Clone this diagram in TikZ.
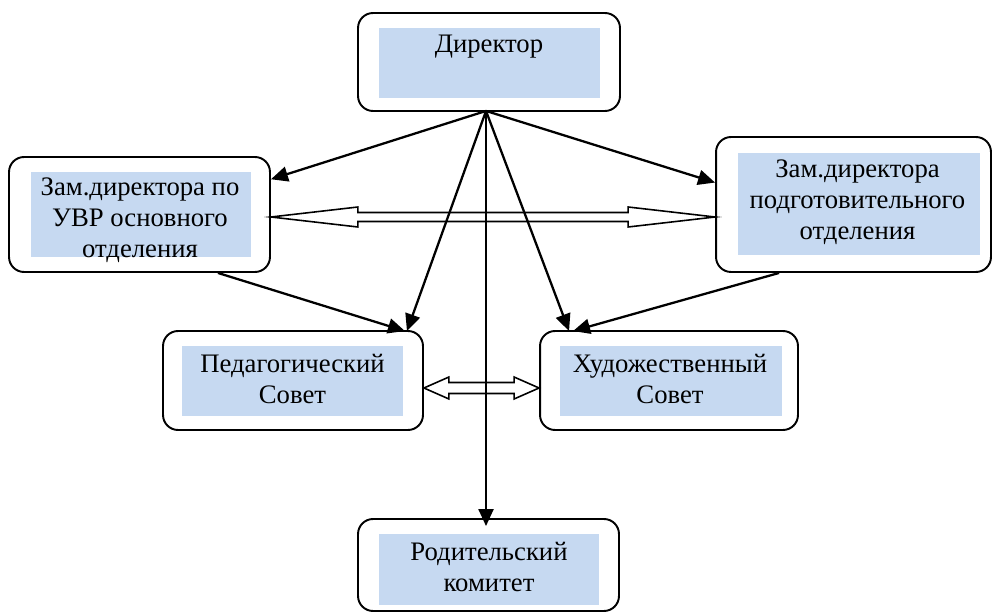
\documentclass[tikz,border=0pt]{standalone}
\usepackage{fontspec}
\setmainfont{Liberation Serif}
\usetikzlibrary{calc}
\usetikzlibrary{arrows.meta}
\definecolor{paleblue}{RGB}{198,217,241}
\tikzset{box/.style={draw, line width=1.1pt, rounded corners=0.3cm, fill=white, inner sep=0pt}}
\tikzset{tint/.style={fill=paleblue, inner sep=0pt}}
\tikzset{lbl/.style={align=center, inner sep=0pt, font=\fontsize{15.2}{17.6}\selectfont}}
\tikzset{link/.style={->, line width=1.3pt}}
\tikzset{wide/.style={draw, line width=0.9pt, fill=white, line join=miter}}
\tikzset{>={Triangle[length=0.34cm, width=0.3cm]}}
\newcommand{\twoway}[5]{%
  \draw[wide] (#1) -- ++(#3,-#4) -- ++(0,#4-#5) -- ($(#2)+(-#3,-#5)$)
    -- ++(0,#5-#4) -- (#2) -- ++(-#3,#4) -- ++(0,#5-#4)
    -- ($(#1)+(#3,#5)$) -- ++(0,#4-#5) -- cycle;}

\begin{document}
\begin{tikzpicture}[x=0.02cm, y=-0.02cm]
        \useasboundingbox (0,0) rectangle (993,614);

        \node[box, minimum width=5.24cm, minimum height=1.96cm] (dir) at (489,62) {};
        \node[tint, minimum width=4.42cm, minimum height=1.4cm] (dirbg) at (489.5,63) {};
        \node[lbl, anchor=base] (dirtxt) at (489,53) {Директор};

        \node[box, minimum width=5.22cm, minimum height=2.3cm] (zam1) at (139.5,214.5) {};
        \node[tint, minimum width=4.4cm, minimum height=1.7cm] (zam1bg) at (141,214.5) {};
        \node[lbl] (zam1txt) at (140,220) {Зам.директора по\\УВР основного\\отделения};

        \node[box, minimum width=5.5cm, minimum height=2.7cm] (zam2) at (853.5,204.5) {};
        \node[tint, minimum width=4.84cm, minimum height=2.04cm] (zam2bg) at (859,204) {};
        \node[lbl] (zam2txt) at (857.5,202) {Зам.директора\\подготовительного\\отделения};

        \node[box, minimum width=5.2cm, minimum height=1.98cm] (ped) at (293,380.5) {};
        \node[tint, minimum width=4.42cm, minimum height=1.4cm] (pedbg) at (292.5,381) {};
        \node[lbl] (pedtxt) at (292.5,379) {Педагогический\\Совет};

        \node[box, minimum width=5.16cm, minimum height=1.98cm] (khud) at (669,380.5) {};
        \node[tint, minimum width=4.44cm, minimum height=1.4cm] (khudbg) at (671,381) {};
        \node[lbl] (khudtxt) at (670,379) {Художественный\\Совет};

        \node[box, minimum width=5.22cm, minimum height=1.84cm] (rod) at (488.5,565) {};
        \node[tint, minimum width=4.4cm, minimum height=1.42cm] (rodbg) at (489,569.5) {};
        \node[lbl] (rodtxt) at (489,567) {Родительский\\комитет};

        \coordinate (w1) at ($(zam1.east)+(0,2.5)$);
        \coordinate (w2) at (w1 -| zam2.west);
        \twoway{w1}{w2}{87}{10}{4.5}
        \coordinate (m1) at ($(ped.east)+(0,7.5)$);
        \coordinate (m2) at (m1 -| khud.west);
        \twoway{m1}{m2}{25}{11}{5.5}

        \coordinate (hub) at ($(dir.south)+(-3,-1)$);
        \draw[link] (hub) -- (zam1.15);
        \draw[link] (hub) -- (zam2.171);
        \draw[link] (hub) -- ($(ped.north east)+(-17,1)$);
        \draw[link] (hub) -- ($(khud.north west)+(30,1)$);
        \draw[link] (hub) -- ($(hub |- rod.north)+(0,8)$);
        \draw[link] ($(zam1.south east)+(-53,0)$) -- ($(ped.north east)+(-19,1)$);
        \draw[link] ($(zam2.south west)+(64,0)$) -- ($(khud.north west)+(34,1)$);

    \end{tikzpicture}
\end{document}
